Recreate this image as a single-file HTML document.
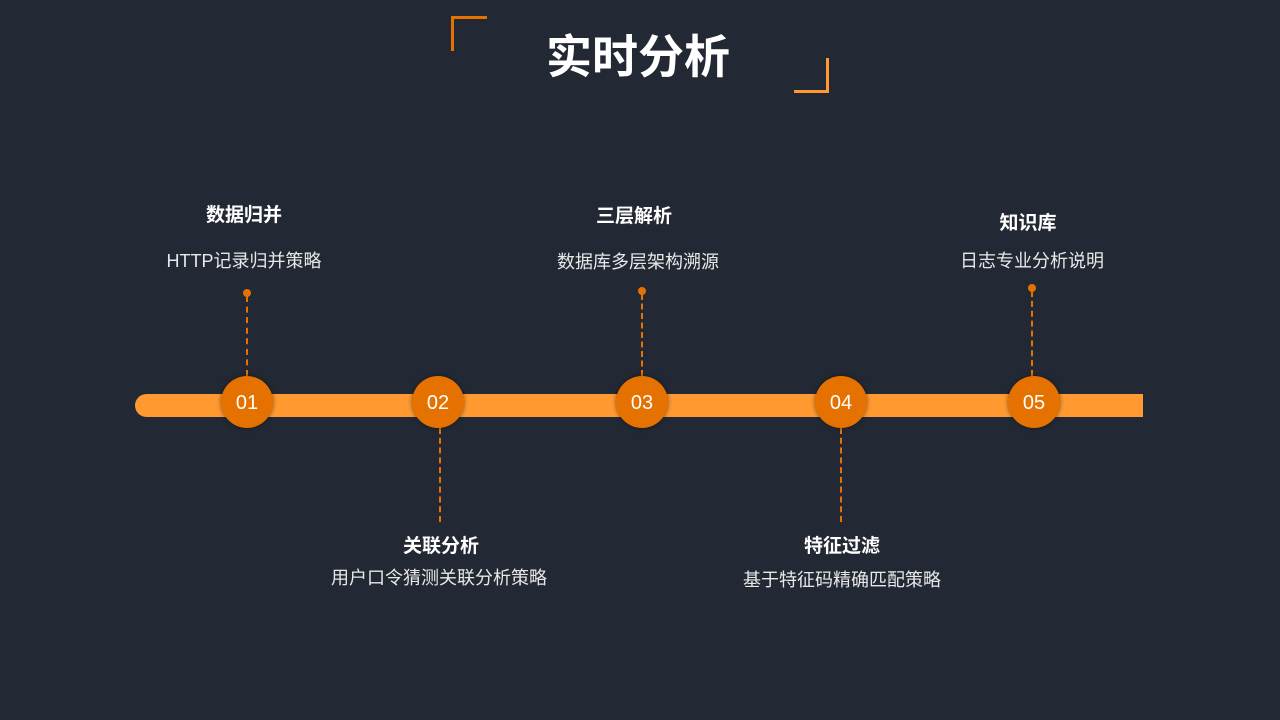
<!DOCTYPE html>
<html><head><meta charset="utf-8"><style>
body{margin:0;width:1280px;height:720px;background:#232934;position:relative;overflow:hidden;font-family:"Liberation Sans","Noto Sans CJK SC",sans-serif;color:#fff}
.a{position:absolute}
.t{position:absolute;transform:translateX(-50%);white-space:nowrap;text-align:center}
.h{font-size:19px;font-weight:bold}
.s{font-size:18px;color:#e8e8e8}
.c{position:absolute;width:52px;height:52px;border-radius:50%;background:#e57200;box-shadow:0 0 4px rgba(0,0,0,.5);color:#fff;font-size:20px;line-height:54px;text-align:center}
.d{position:absolute;border-left:2px dashed #e57200;width:0}
.dot{position:absolute;width:8px;height:8px;border-radius:50%;background:#e57200}
</style></head><body>
<div class="a" style="left:451px;top:16px;width:33px;height:32px;border-left:3px solid #e57200;border-top:3px solid #e57200"></div>
<div class="a" style="left:794px;top:58px;width:32px;height:32px;border-right:3px solid #ff9830;border-bottom:3px solid #ff9830"></div>
<div class="t" style="left:638px;top:21px;font-size:46px;font-weight:bold">实时分析</div>

<div class="a" style="left:135px;top:394px;width:1008px;height:23px;background:#ff9930;border-radius:12px 0 0 12px"></div>

<div class="dot" style="left:243px;top:289px"></div><div class="d" style="left:246px;top:296px;height:80px"></div>
<div class="dot" style="left:638px;top:287px"></div><div class="d" style="left:641px;top:294px;height:82px"></div>
<div class="dot" style="left:1028px;top:284px"></div><div class="d" style="left:1031px;top:291px;height:85px"></div>
<div class="d" style="left:439px;top:428px;height:94px"></div>
<div class="d" style="left:840px;top:428px;height:94px"></div>

<div class="c" style="left:221px;top:376px">01</div>
<div class="c" style="left:412px;top:376px">02</div>
<div class="c" style="left:616px;top:376px">03</div>
<div class="c" style="left:815px;top:376px">04</div>
<div class="c" style="left:1008px;top:376px">05</div>

<div class="t h" style="left:244px;top:200px">数据归并</div>
<div class="t s" style="left:244px;top:247px">HTTP记录归并策略</div>
<div class="t h" style="left:634px;top:201px">三层解析</div>
<div class="t s" style="left:638px;top:248px">数据库多层架构溯源</div>
<div class="t h" style="left:1028px;top:208px">知识库</div>
<div class="t s" style="left:1032px;top:247px">日志专业分析说明</div>
<div class="t h" style="left:441px;top:531px">关联分析</div>
<div class="t s" style="left:439px;top:564px">用户口令猜测关联分析策略</div>
<div class="t h" style="left:842px;top:531px">特征过滤</div>
<div class="t s" style="left:842px;top:566px">基于特征码精确匹配策略</div>
</body></html>
